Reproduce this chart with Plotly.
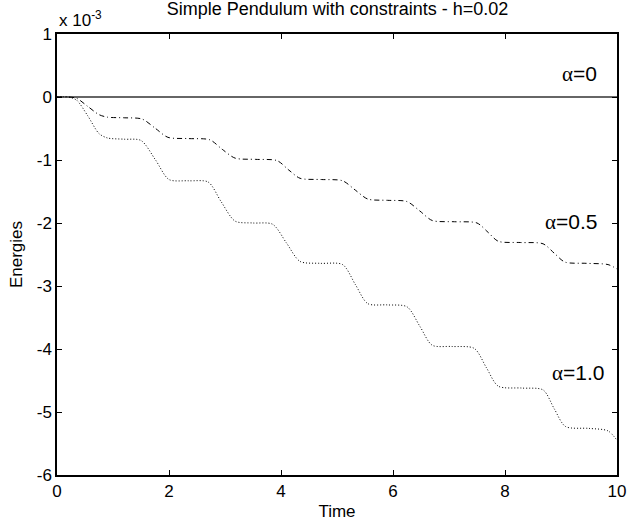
import plotly.graph_objects as go

# Energies in units of 1e-3
t_a0 = [0, 10]
e_a0 = [0, 0]

t_a05 = [0, 0.2, 0.35, 0.55, 0.75, 0.9, 1.2, 1.52, 1.76, 1.98, 2.35, 2.73, 2.95, 3.18, 3.55, 3.93,
         4.14, 4.34, 4.72, 5.1, 5.33, 5.55, 5.9, 6.25, 6.48, 6.7, 7.1, 7.5, 7.7, 7.88, 8.28, 8.68,
         8.88, 9.07, 9.45, 9.84, 10]
e_a05 = [0, 0, -0.02, -0.15, -0.28, -0.32, -0.33, -0.35, -0.5, -0.64, -0.66, -0.68, -0.83, -0.97,
         -0.99, -1.01, -1.16, -1.29, -1.31, -1.33, -1.48, -1.62, -1.64, -1.66, -1.81, -1.96, -1.98,
         -2.0, -2.15, -2.29, -2.31, -2.33, -2.48, -2.62, -2.64, -2.66, -2.73]

t_a1 = [0, 0.2, 0.35, 0.55, 0.75, 0.9, 1.2, 1.5, 1.76, 2.0, 2.35, 2.7, 2.93, 3.18, 3.5, 3.85,
        4.1, 4.34, 4.7, 5.1, 5.33, 5.55, 5.9, 6.25, 6.48, 6.7, 7.05, 7.45, 7.67, 7.88, 8.3, 8.68,
        8.88, 9.08, 9.5, 9.84, 10]
e_a1 = [0, 0, -0.05, -0.3, -0.58, -0.65, -0.67, -0.69, -1.0, -1.31, -1.33, -1.35, -1.66, -1.97,
        -2.0, -2.02, -2.32, -2.61, -2.64, -2.66, -2.98, -3.28, -3.3, -3.33, -3.64, -3.94, -3.96,
        -3.99, -4.3, -4.59, -4.62, -4.65, -4.95, -5.23, -5.26, -5.3, -5.45]

x_ticks = [0, 2, 4, 6, 8, 10]
x_ticktext = ["0", "2", "4", "6", "8", "10"]
y_ticks = [-6, -5, -4, -3, -2, -1, 0, 1]
y_ticktext = ["-6", "-5", "-4", "-3", "-2", "-1", "0", "1"]

label_alpha = ["0", "0.5", "1.0"]
label_x = [9.68, 9.68, 9.8]
label_y = [0.37, -1.98, -4.38]

font = "Liberation Sans, Arial, sans-serif"

fig = go.Figure()
fig.add_trace(go.Scatter(x=t_a0, y=e_a0, mode="lines",
                         line=dict(color="#333333", width=1.3), showlegend=False))
fig.add_trace(go.Scatter(x=t_a05, y=e_a05, mode="lines",
                         line=dict(color="black", width=1, dash="5px,3px,1px,3px", shape="spline", smoothing=0.8),
                         showlegend=False))
fig.add_trace(go.Scatter(x=t_a1, y=e_a1, mode="lines",
                         line=dict(color="black", width=1, dash="1px,2px", shape="spline", smoothing=0.8),
                         showlegend=False))

for a, xx, yy in zip(label_alpha, label_x, label_y):
    fig.add_annotation(x=xx, y=yy, text="<span style='font-family:Liberation Serif'>α</span>=" + a,
                       showarrow=False, xanchor="right", yanchor="middle",
                       font=dict(family=font, size=21, color="black"))

fig.add_annotation(x=0, y=1, xref="paper", yref="paper", text="x 10<sup>-3</sup>", showarrow=False,
                   xanchor="left", yanchor="bottom", yshift=2, font=dict(family=font, size=17, color="black"))

axis_common = dict(showgrid=False, zeroline=False, showline=True, linecolor="black", linewidth=1.5,
                   mirror="ticks", ticks="inside", ticklen=5, tickcolor="black", automargin=False,
                   tickfont=dict(family=font, size=17, color="black"))

fig.update_layout(
    width=628, height=521,
    margin=dict(l=57, r=11, t=34, b=46),
    paper_bgcolor="white", plot_bgcolor="white",
    title=dict(text="Simple Pendulum with constraints - h=0.02", x=0.5375, xanchor="center",
               y=0.996, yanchor="top", pad=dict(t=0, b=0), font=dict(family=font, size=18, color="black")),
    xaxis=dict(range=[0, 10], tickvals=x_ticks, ticktext=x_ticktext,
               title=dict(text="Time", font=dict(family=font, size=17, color="black"), standoff=6),
               **axis_common),
    yaxis=dict(range=[-6, 1], tickvals=y_ticks, ticktext=y_ticktext,
               title=dict(text="Energies", font=dict(family=font, size=17, color="black"), standoff=10),
               **axis_common),
)

fig.write_html("out.html", config={"displayModeBar": False},
               post_script="document.body.style.margin='0';document.body.style.overflow='hidden';")
